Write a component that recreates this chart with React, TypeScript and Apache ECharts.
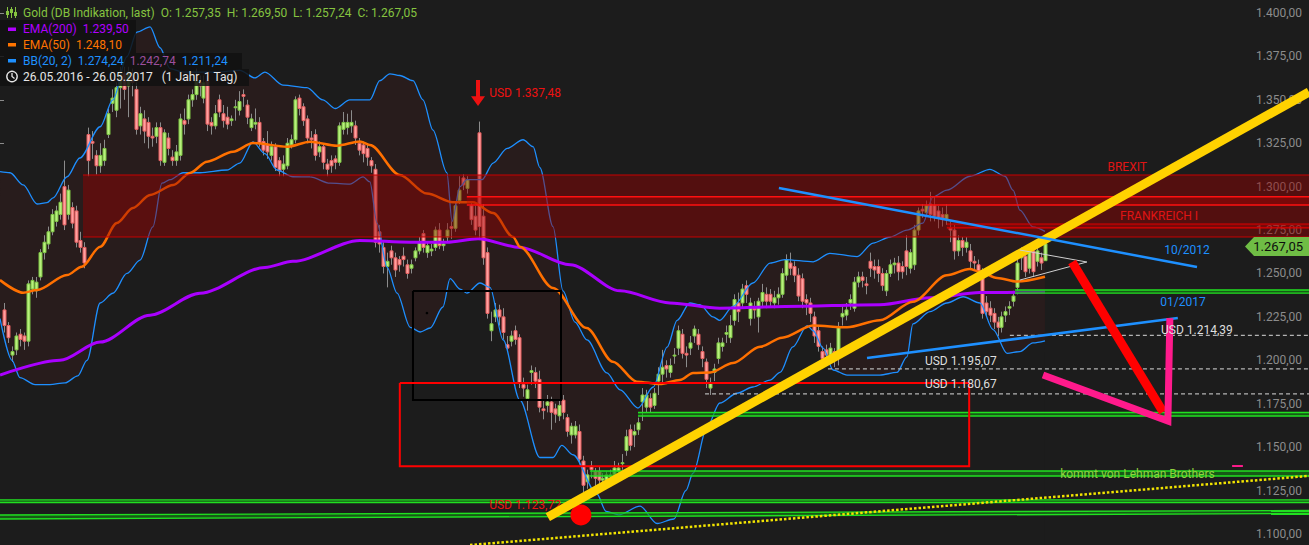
import React, { useEffect, useRef } from "react";
import * as echarts from "echarts";

const W = 1309;
const H = 545;
const BG = "#1c1c1c";
const BAND_FILL = "#281c1c";
const FONT = "Roboto";
const X_MIN = -1.0025;
const X_MAX = 327.07;
const Y_MIN = 1093.62;
const Y_MAX = 1407.49;

// trading-day index of each month start (index 0 = 26.05.2016)
const monthTickIdx = [4, 26, 47, 70, 92, 113, 135, 157, 179, 199, 222, 242];
const monthLabels = ["Jun", "Jul", "Aug", "Sep", "Okt", "Nov", "Dez", "Jan 17", "Feb", "Mär", "Apr", "Mai"];
const priceTicks = [1100, 1125, 1150, 1175, 1200, 1225, 1250, 1275, 1300, 1325, 1350, 1375, 1400];

// daily candles [open, close, low, high]
const ohlc = [
  [1229,1220,1216,1233],[1220,1213,1210,1222],[1203,1205,1199,1208],[1206,1214,1203,1216],[1215,1212,1208,1218],
  [1214,1211,1206,1216],[1211,1244,1208,1246],[1241,1246,1238,1248],[1240,1245,1236,1248],[1248,1262,1246,1264],
  [1262,1268,1258,1272],[1267,1274,1264,1277],[1274,1284,1272,1287],[1280,1286,1277,1289],[1284,1291,1281,1296],
  [1300,1278,1275,1315],[1284,1298,1281,1301],[1288,1279,1276,1291],[1286,1268,1265,1289],[1269,1265,1262,1274],
  [1265,1256,1253,1268],[1330,1315,1306,1334],[1326,1325,1316,1332],[1318,1312,1307,1321],[1312,1318,1308,1325],
  [1315,1322,1312,1327],[1330,1342,1328,1345],[1348,1351,1343,1356],[1344,1357,1340,1360],[1357,1366,1345,1369],
  [1365,1356,1350,1369],[1358,1366,1340,1369],[1363,1360,1352,1368],[1356,1333,1330,1360],[1335,1342,1330,1346],
  [1339,1332,1325,1344],[1337,1329,1322,1340],[1329,1328,1323,1334],[1329,1334,1325,1337],[1334,1315,1312,1337],
  [1314,1331,1312,1333],[1328,1322,1318,1331],[1317,1315,1312,1321],[1315,1320,1312,1324],[1318,1339,1315,1342],
  [1338,1336,1330,1345],[1339,1350,1336,1353],[1350,1353,1346,1356],[1353,1361,1350,1368],[1360,1358,1352,1364],
  [1351,1360,1348,1364],[1361,1336,1332,1364],[1337,1335,1330,1340],[1335,1342,1333,1347],[1350,1343,1340,1353],
  [1342,1338,1334,1347],[1340,1336,1333,1346],[1338,1339,1335,1341],[1346,1346,1338,1350],[1344,1349,1341,1355],
  [1353,1352,1346,1356],[1347,1340,1336,1350],[1334,1339,1332,1342],[1336,1337,1333,1345],[1337,1325,1323,1340],
  [1326,1321,1318,1328],[1324,1320,1316,1332],[1318,1323,1315,1326],[1323,1311,1309,1325],[1315,1309,1306,1317],
  [1310,1313,1306,1318],[1312,1325,1310,1328],[1324,1327,1322,1330],[1327,1350,1325,1352],[1351,1345,1341,1353],
  [1346,1338,1335,1348],[1339,1328,1325,1341],[1328,1327,1322,1332],[1330,1318,1315,1333],[1320,1323,1317,1326],
  [1323,1314,1310,1325],[1313,1310,1306,1316],[1315,1312,1308,1318],[1316,1314,1310,1318],[1314,1335,1312,1337],
  [1333,1337,1330,1343],[1334,1337,1330,1342],[1335,1337,1331,1344],[1335,1328,1324,1338],[1325,1321,1318,1328],
  [1324,1319,1314,1326],[1322,1317,1312,1325],[1315,1312,1308,1317],[1310,1268,1265,1313],[1274,1267,1262,1278],
  [1265,1254,1250,1268],[1254,1257,1242,1262],[1263,1259,1255,1266],[1259,1252,1248,1262],[1258,1255,1251,1260],
  [1260,1258,1254,1265],[1255,1250,1247,1258],[1253,1255,1250,1258],[1259,1263,1257,1265],[1263,1268,1261,1271],
  [1273,1265,1262,1275],[1262,1266,1259,1268],[1263,1264,1260,1267],[1265,1275,1263,1277],[1275,1266,1264,1279],
  [1266,1267,1263,1270],[1271,1275,1268,1279],[1277,1276,1270,1280],[1276,1289,1274,1291],[1292,1298,1290,1306],
  [1305,1301,1298,1307],[1299,1304,1296,1306],[1289,1281,1278,1291],[1283,1275,1272,1289],[1331,1277,1270,1337.48],
  [1283,1259,1255,1290],[1262,1227,1224,1265],[1217,1221,1211,1228],[1225,1229,1222,1233],[1229,1225,1220,1232],
  [1225,1216,1212,1230],[1209,1207,1205,1214],[1211,1214,1208,1217],[1217,1212,1209,1220],[1213,1187,1184,1215],
  [1186,1184,1179,1190],[1178,1183,1171,1186],[1193,1194,1186,1197],[1193,1188,1184,1196],[1189,1173,1170,1194],
  [1172,1171,1166,1177],[1174,1176,1170,1180],[1176,1170,1160,1179],[1172,1169,1164,1175],[1168,1174,1165,1177],
  [1177,1170,1166,1180],[1167,1159,1156,1169],[1157,1162,1152,1164],[1157,1162,1155,1165],[1159,1143,1140,1163],
  [1142,1128,1124,1145],[1130,1134,1126,1137],[1139,1137,1132,1142],[1136,1132,1127,1138],[1136,1131,1128,1139],
  [1131,1132,1126,1135],[1131,1134,1128,1136],[1133,1134,1131,1137],[1134,1138,1132,1142],[1136,1138,1133,1141],
  [1141,1141,1137,1146],[1148,1156,1145,1160],[1160,1151,1148,1163],[1157,1159,1150,1163],[1160,1164,1157,1167],
  [1176,1180,1165,1184],[1173,1180,1170,1183],[1178,1173,1170,1181],[1174,1181,1172,1184],[1188,1192,1180,1196],
  [1192,1196,1186,1206],[1197,1195,1190,1200],[1193,1197,1190,1201],[1203,1203,1198,1207],[1207,1217,1203,1220],
  [1215,1204,1201,1218],[1204,1203,1196,1208],[1207,1210,1203,1214],[1214,1218,1210,1220],[1215,1209,1206,1218],
  [1205,1201,1196,1208],[1199,1189,1184,1201],[1184,1187,1180,1190],[1193,1195,1188,1198],[1201,1210,1198,1213],
  [1208,1210,1205,1213],[1215,1216,1210,1220],[1213,1220,1210,1226],[1223,1235,1220,1238],[1233,1228,1222,1239],
  [1233,1241,1230,1244],[1243,1238,1233,1246],[1224,1233,1220,1236],[1230,1229,1224,1234],[1225,1234,1216,1236],
  [1234,1239,1231,1244],[1238,1234,1230,1242],[1238,1234,1231,1241],[1233,1236,1230,1240],[1236,1238,1232,1242],
  [1238,1250,1236,1253],[1249,1258,1246,1261],[1256,1253,1249,1262],[1254,1249,1245,1257],[1249,1237,1234,1253],
  [1247,1234,1230,1250],[1235,1233,1226,1238],[1233,1227,1222,1236],[1225,1214,1210,1228],[1217,1208,1205,1220],
  [1205,1201,1197,1208],[1206,1203,1198,1209],[1203,1207,1200,1210],[1205,1200,1196,1207],[1204,1219,1197,1222],
  [1225,1227,1220,1232],[1226,1229,1223,1233],[1233,1235,1229,1238],[1230,1245,1228,1248],[1245,1248,1242,1251],
  [1248,1246,1242,1251],[1244,1243,1238,1248],[1257,1253,1248,1262],[1254,1252,1247,1258],[1254,1250,1245,1258],
  [1250,1243,1240,1253],[1240,1250,1237,1252],[1250,1255,1248,1258],[1255,1256,1250,1259],[1256,1251,1246,1260],
  [1254,1251,1247,1257],[1263,1254,1249,1272],[1253,1262,1250,1264],[1255,1275,1252,1278],[1275,1286,1272,1288],
  [1287,1286,1282,1290],[1285,1289,1283,1292],[1290,1284,1280,1297],[1289,1283,1280,1294],[1286,1282,1276,1289],
  [1284,1281,1277,1288],[1281,1284,1278,1290],[1276,1275,1268,1280],[1275,1263,1258,1278],[1263,1269,1260,1272],
  [1269,1265,1260,1271],[1265,1268,1262,1271],[1263,1257,1252,1267],[1257,1256,1252,1260],[1255,1251,1246,1258],
  [1250,1227,1224,1253],[1233,1228,1225,1237],[1230,1226,1222,1234],[1227,1222,1218,1230],[1222,1219,1214,1225],
  [1219,1225,1216,1228],[1226,1228,1222,1231],[1230,1231,1226,1234],[1234,1237,1231,1240],[1242,1256,1238,1260],
  [1259,1262,1252,1265],[1260,1251,1248,1263],[1253,1262,1250,1264],[1263,1251,1248,1265],[1257,1263,1254,1266],
  [1259,1256,1252,1262],[1257.35,1267.05,1257.24,1269.5],
];

// indicator lines: [dayIndex, price]
const ema200Pts = [[-1,1191.5],[14,1200],[24.1,1210.5],[36.6,1226],[49.1,1238.6],[65.4,1253.5],[72.4,1257],[89.2,1269],[101.8,1268],[111,1268],[118.8,1270],[129.3,1265],[141.9,1255],[154.4,1240],[166.9,1233],[179.4,1230],[195.7,1231],[219.5,1232],[232.1,1236],[244.6,1239],[260.9,1239.5]];
const ema50Pts = [[-1,1246.2],[4.8,1238.9],[8.3,1240.5],[15.8,1249.1],[19.5,1253.9],[24.1,1265.4],[28.3,1279.1],[32.3,1287.7],[36.6,1295.2],[42.4,1300.9],[46.6,1307.9],[50.9,1314.4],[57.4,1320.1],[62.4,1325.1],[71,1323],[76.7,1325.9],[83.5,1323.6],[89.2,1326],[91.7,1324],[99.2,1306.7],[106,1296],[112.5,1291],[117.5,1291],[122.6,1284.8],[127.6,1271],[129.3,1265.4],[137.6,1241.6],[146,1218.6],[152.6,1199.2],[158.6,1187.7],[164.4,1186.3],[169.4,1188.6],[172.7,1192.7],[177,1193],[182.7,1198.4],[189.5,1207.8],[195,1213],[202.8,1220],[211.3,1219],[219.5,1223],[227.8,1233.7],[236.3,1249],[242,1252.6],[244.6,1251],[248.9,1247.4],[253.9,1245.3],[260.9,1248.1]];
const bbUpperPts = [[-1,1308.6],[1.5,1308],[4.8,1301],[8.3,1290],[10.8,1290.8],[12.3,1293.5],[15.8,1305.7],[19,1316.5],[24.1,1334.5],[27.3,1350],[30.8,1374.8],[33.3,1389],[36.6,1392],[39.1,1380],[41.6,1368],[44.9,1366],[53.4,1366],[59.1,1367],[62.9,1362.6],[65.4,1366],[69.9,1358.5],[75.9,1357],[79.9,1350],[83,1345],[86.7,1350],[91.7,1350],[94.2,1361],[96.7,1365],[99.2,1364],[102.5,1361],[105,1350],[107.5,1332.6],[111,1308],[112.3,1280],[114.3,1300],[116,1304],[119.8,1304],[122.6,1313.6],[126.1,1322],[130.1,1327],[132.6,1323],[134.3,1311],[137.6,1277],[140.1,1240],[143.1,1222],[146.1,1211.7],[151.1,1192.7],[154.4,1183],[158.9,1172.5],[162.7,1184.6],[166.2,1207.6],[168.7,1223],[171.9,1233],[174.4,1232],[177.7,1225],[179.4,1223],[182.7,1231],[187.7,1244.5],[192,1256],[195.7,1258],[202.8,1256.7],[207,1261.6],[213.8,1259.7],[217.8,1267.5],[222.1,1271],[226.3,1275],[230.3,1279],[232.8,1294],[236.3,1298],[242.1,1306],[247.1,1310],[250.9,1306],[252.9,1298],[254.6,1286.5],[257.9,1276.8],[260.9,1274.2]];
const bbLowerPts = [[-1,1224],[2,1200],[4,1190],[7.8,1186],[11.5,1186],[15.3,1187],[18.5,1191],[20.8,1200],[24.1,1233],[27.3,1238.6],[30.8,1250],[34.1,1257.7],[37.3,1276.8],[39.6,1302],[41.6,1304],[44.9,1308],[49.1,1308],[55.9,1309.6],[59.1,1313.6],[62.4,1325.7],[65.4,1319],[68.4,1309.6],[72.4,1305.7],[76.7,1305.6],[81.7,1302],[86.7,1301.5],[90,1305.6],[91.7,1302.7],[93.5,1279],[96,1253.7],[98.5,1238.7],[101.8,1219],[104.3,1216.3],[106.8,1218.6],[110,1230.7],[111.8,1247],[114.3,1241],[116,1238.7],[119.3,1244.5],[121.8,1242],[125.1,1211.7],[129.3,1177],[134.3,1144],[137.6,1144],[139.8,1151],[142.6,1145.6],[148.6,1123],[150.9,1113],[154.1,1111],[159.4,1116],[163.7,1106],[167.9,1108.6],[170.9,1125],[172.7,1135],[176.2,1161.6],[179.4,1175.4],[183.7,1181],[187.7,1184.6],[192,1188.6],[194.5,1193],[197.7,1207.7],[201.3,1220],[202.8,1217],[205.3,1207],[207.8,1194.4],[211.3,1191.5],[219.5,1191.5],[223.8,1193],[226.3,1202],[227.8,1221],[232.1,1228],[236.3,1233],[240.4,1236.6],[244.6,1233],[247.9,1217.6],[251.4,1204],[254.6,1205],[257.9,1210],[260.9,1211.2]];

// drawn annotations, in [dayIndex, price]
const brexitZone = [19.8, X_MAX, 1306.7, 1271.0];
const frankreichZone = [116.0, X_MAX, 1294.2, 1289.4];
const innerZone = [236.3, X_MAX, 1278.5, 1276.2];
const greenBands = [
  [253.4, 1240.5, 1238.7, X_MAX, 1240.5, 1238.7],
  [158.9, 1169.9, 1167.9, X_MAX, 1169.9, 1167.9],
  [146.9, 1136.2, 1133.4, X_MAX, 1136.2, 1133.4],
  [X_MIN, 1119.6, 1118.1, X_MAX, 1119.6, 1118.1],
  [X_MIN, 1110.9, 1108.6, X_MAX, 1113.5, 1111.8],
];
const dashedLevels = [[252.1, 1214.39], [206.5, 1195.07], [175.7, 1180.67]];
const redBox = [99.2, 241.9, 1186.9, 1139.0];
const blackBox = [102.5, 139.6, 1239.9, 1177.1];
const yellowTrend = [[136.3, 1109.7], [X_MAX, 1354.5]];
const yellowDotted = [[116.8, 1093.6], [X_MAX, 1133.4]];
const blueDown = [[194.2, 1299.2], [299.0, 1253.7]];
const blueUp = [[216.3, 1201.3], [294.2, 1224.3]];
const redStroke = [[267.7, 1256.6], [290.5, 1170.2]];
const pinkV = [[260.4, 1191.5], [291.7, 1165.0], [292.2, 1224.3]];
const pinkDash = [[307.8, 1139.1], [310.5, 1139.1]];
const pennant = [[254.6, 1263.5], [271.4, 1256.6], [254.6, 1246.2]];
const topArrow = { idx: 118.8, top: 1361.4, base: 1352.0, tip: 1346.4 };
const lowMark = [144.6, 1110.9];
const texts = [
  ["BREXIT", 281.5, 1311.3, "#e01414", "center"],
  ["FRANKREICH I", 289.5, 1283.1, "#e01414", "center"],
  ["10/2012", 296.5, 1263.5, "#1e90ff", "center"],
  ["01/2017", 295.5, 1233.6, "#1e90ff", "center"],
  ["USD 1.214,39", 290.0, 1217.4, "#dedede", "left"],
  ["USD 1.195,07", 230.8, 1199.6, "#dedede", "left"],
  ["USD 1.180,67", 230.8, 1186.3, "#dedede", "left"],
  ["kommt von Lehman Brothers", 264.7, 1134.5, "#8fd13f", "left"],
  ["USD 1.337,48", 121.6, 1353.9, "#ee1111", "left"],
];
const lowText = ["USD 1.123,72", 121.6, 1116.7];

const fmtPrice = (v: number) => {
  const s = v.toFixed(2);
  const [i, d] = s.split(".");
  const ii = i.length > 3 ? i.slice(0, i.length - 3) + "." + i.slice(-3) : i;
  return ii + "," + d;
};

function renderCandle(params: any, api: any) {
  const i = api.value(0);
  const o = api.value(1);
  const c = api.value(2);
  const l = api.value(3);
  const h = api.value(4);
  const pO = api.coord([i, o]);
  const pC = api.coord([i, c]);
  const pL = api.coord([i, l]);
  const pH = api.coord([i, h]);
  const up = c >= o;
  const x = Math.round(pO[0]) + 0.5;
  const top = Math.min(pO[1], pC[1]);
  const hgt = Math.max(1, Math.abs(pO[1] - pC[1]));
  return {
    type: "group",
    children: [
      { type: "line", shape: { x1: x, y1: pL[1], x2: x, y2: pH[1] }, style: { stroke: "#8c8c8c", lineWidth: 1 } },
      {
        type: "rect",
        shape: { x: x - 1.5, y: top, width: 3, height: hgt },
        style: { fill: up ? "#b9f07e" : "#ffa0a0", stroke: up ? "#7cc443" : "#e45e5e", lineWidth: 1 },
      },
    ],
  };
}

function renderAnnotations(params: any, api: any) {
  const P = (d: number[]) => api.coord(d);
  const ch: any[] = [];
  const poly = (pts: number[][], style: any) => ch.push({ type: "polygon", shape: { points: pts.map(P) }, style });
  const line = (pts: number[][], style: any) =>
    ch.push({ type: "polyline", shape: { points: pts.map(P) }, style: { fill: null, ...style } });
  const zone = (z: number[], fill: string, border: string, bw: number) => {
    const [x1, x2, t, b] = z;
    poly([[x1, t], [x2, t], [x2, b], [x1, b]], { fill });
    line([[x1, t], [x2, t]], { stroke: border, lineWidth: bw });
    line([[x1, b], [x2, b]], { stroke: border, lineWidth: bw });
  };
  zone(brexitZone, "rgba(150,0,0,0.45)", "#c80000", 1);
  zone(frankreichZone, "rgba(190,0,0,0.35)", "#ff1010", 1.5);
  zone(innerZone, "rgba(190,0,0,0.35)", "#e00000", 1.2);

  greenBands.forEach((g) => {
    const [x1, t1, b1, x2, t2, b2] = g;
    poly([[x1, t1], [x2, t2], [x2, b2], [x1, b1]], { fill: "rgba(20,130,20,0.6)" });
    line([[x1, t1], [x2, t2]], { stroke: "#20e020", lineWidth: 1.4 });
    line([[x1, b1], [x2, b2]], { stroke: "#20e020", lineWidth: 1.4 });
  });

  dashedLevels.forEach((d) => {
    line([[d[0], d[1]], [X_MAX, d[1]]], { stroke: "#b4b4b4", lineWidth: 1.2, lineDash: [4, 3] });
  });

  const box = (b: number[], stroke: string) =>
    line([[b[0], b[2]], [b[1], b[2]], [b[1], b[3]], [b[0], b[3]], [b[0], b[2]]], { stroke, lineWidth: 2 });
  box(blackBox, "#000000");
  box(redBox, "#ff0000");
  const dot = P([106, 1227.2]);
  ch.push({ type: "circle", shape: { cx: dot[0], cy: dot[1], r: 1.3 }, style: { fill: "#000" } });

  const lm = P(lowMark);
  ch.push({ type: "circle", shape: { cx: lm[0], cy: lm[1], r: 10.5 }, style: { fill: "#ff0000" } });
  const lt = P([lowText[1] as number, lowText[2] as number]);
  ch.push({
    type: "text", x: lt[0], y: lt[1],
    style: { text: lowText[0], fill: "#ee1111", fontSize: 12, fontFamily: FONT, align: "left", verticalAlign: "middle" },
  });

  line(yellowDotted, { stroke: "#f2e400", lineWidth: 2.5, lineDash: [2.5, 2] });
  line(yellowTrend, { stroke: "#ffd200", lineWidth: 9 });
  line(blueDown, { stroke: "#1e90ff", lineWidth: 2.5 });
  line(blueUp, { stroke: "#1e90ff", lineWidth: 2.5 });
  line([pennant[0], pennant[1], pennant[2]], { stroke: "#cfcfcf", lineWidth: 1 });
  line(redStroke, { stroke: "#ff0000", lineWidth: 9 });
  line(pinkV, { stroke: "#ff1a8c", lineWidth: 7, lineJoin: "miter" });
  line(pinkDash, { stroke: "#ff1a8c", lineWidth: 2 });

  const aTop = P([topArrow.idx, topArrow.top]);
  const aBase = P([topArrow.idx, topArrow.base]);
  const aTip = P([topArrow.idx, topArrow.tip]);
  ch.push({
    type: "polygon",
    shape: {
      points: [
        [aTop[0] - 2, aTop[1]], [aTop[0] + 2, aTop[1]], [aBase[0] + 2, aBase[1]], [aBase[0] + 7, aBase[1]],
        [aTip[0], aTip[1]], [aBase[0] - 7, aBase[1]], [aBase[0] - 2, aBase[1]],
      ],
    },
    style: { fill: "#ee1111" },
  });

  texts.forEach((t) => {
    const p = P([t[1] as number, t[2] as number]);
    ch.push({
      type: "text", x: p[0], y: p[1],
      style: { text: t[0], fill: t[3], fontSize: 12, fontFamily: FONT, align: t[4], verticalAlign: "middle" },
    });
  });
  return { type: "group", children: ch };
}

const legendGraphics = () => {
  const g: any[] = [];
  const z = 100;
  g.push({ type: "rect", z, shape: { x: 0, y: 20, width: 136, height: 33 }, style: { fill: "rgba(16,16,16,0.85)" } });
  g.push({ type: "rect", z, shape: { x: 0, y: 53, width: 242, height: 16 }, style: { fill: "rgba(16,16,16,0.85)" } });
  g.push({ type: "rect", z, shape: { x: 0, y: 69, width: 249, height: 17 }, style: { fill: "rgba(16,16,16,0.85)" } });
  // candle icon
  [7.5, 11.5, 15.5].forEach((x, k) => {
    g.push({ type: "line", z: z + 1, shape: { x1: x, y1: 7, x2: x, y2: 18 }, style: { stroke: "#86c440", lineWidth: 1 } });
    g.push({ type: "rect", z: z + 1, shape: { x: x - 1.5, y: [11, 9, 12][k], width: 3, height: 4 }, style: { fill: "#86c440" } });
  });
  const txt = (x: number, y: number, text: string, fill: string, extra: any = {}) =>
    g.push({
      type: "text", z: z + 1, x, y,
      style: { text, fill, fontSize: 12, fontFamily: FONT, verticalAlign: "middle", ...extra },
    });
  txt(23, 12.5, "Gold (DB Indikation, last)  O: 1.257,35  H: 1.269,50  L: 1.257,24  C: 1.267,05", "#86c440");
  g.push({ type: "rect", z: z + 1, shape: { x: 8, y: 27.5, width: 8, height: 3.5 }, style: { fill: "#b000ff" } });
  txt(23, 29, "EMA(200)  1.239,50", "#b000ff");
  g.push({ type: "rect", z: z + 1, shape: { x: 8, y: 43, width: 8, height: 3.5 }, style: { fill: "#ff7400" } });
  txt(23, 44.5, "EMA(50)  1.248,10", "#ff7400");
  g.push({ type: "rect", z: z + 1, shape: { x: 8, y: 59, width: 8, height: 3.5 }, style: { fill: "#1e90ff" } });
  g.push({
    type: "text", z: z + 1, x: 23, y: 60.5,
    style: {
      text: "{b|BB(20, 2)  1.274,24}  {m|1.242,74}  {b|1.211,24}",
      verticalAlign: "middle",
      fontSize: 12,
      fontFamily: FONT,
      rich: {
        b: { fill: "#1e90ff", fontSize: 12, fontFamily: FONT },
        m: { fill: "#9c4f9c", fontSize: 12, fontFamily: FONT },
      },
    },
  });
  // clock icon
  g.push({ type: "circle", z: z + 1, shape: { cx: 12, cy: 76.5, r: 5.2 }, style: { fill: "none", stroke: "#e6e6e6", lineWidth: 1.4 } });
  g.push({ type: "polyline", z: z + 1, shape: { points: [[12, 73], [12, 76.5], [14.5, 78.5]] }, style: { fill: null, stroke: "#e6e6e6", lineWidth: 1.3 } });
  txt(23, 76.5, "26.05.2016 - 26.05.2017   (1 Jahr, 1 Tag)", "#e6e6e6");
  // last price tag
  g.push({
    type: "polygon", z: z + 1,
    shape: { points: [[1245, 246.5], [1254, 237], [1309, 237], [1309, 256], [1254, 256]] },
    style: { fill: "#6fbd45" },
  });
  txt(1303, 246.5, "1.267,05", "#0d0d0d", { align: "right", fontSize: 13 });
  return g;
};

export default function App() {
  const ref = useRef<HTMLDivElement>(null);
  useEffect(() => {
    if (!ref.current) return;
    const chart = echarts.init(ref.current, undefined, { renderer: "svg" });
    const candleData = ohlc.map((d, i) => [i, d[0], d[1], d[2], d[3]]);
    const lineBase = { type: "line", symbol: "none", silent: true, smooth: 0.3, smoothMonotone: "x" };
    const option: any = {
      animation: false,
      backgroundColor: BG,
      textStyle: { fontFamily: FONT },
      grid: { left: 0, right: 0, top: 0, bottom: 0, containLabel: false },
      xAxis: {
        type: "value",
        min: X_MIN,
        max: X_MAX,
        axisLine: { show: false },
        splitLine: { show: false },
        axisTick: { show: true, inside: true, length: 4, lineStyle: { color: "#8c8c8c" }, customValues: monthTickIdx },
        axisLabel: {
          show: true,
          inside: true,
          margin: 3,
          color: "#8c8c8c",
          fontFamily: FONT,
          fontSize: 12,
          customValues: monthTickIdx,
          formatter: (v: number) => {
            const k = monthTickIdx.indexOf(Math.round(v));
            return k >= 0 ? monthLabels[k] : "";
          },
        },
      },
      yAxis: {
        type: "value",
        position: "right",
        min: Y_MIN,
        max: Y_MAX,
        axisLine: { show: false },
        splitLine: { show: false },
        axisTick: { show: true, inside: true, length: 4, lineStyle: { color: "#8c8c8c" }, customValues: priceTicks },
        axisLabel: {
          show: true,
          inside: true,
          margin: 7,
          color: "#8c8c8c",
          fontFamily: FONT,
          fontSize: 12,
          customValues: priceTicks,
          formatter: (v: number) => fmtPrice(v),
        },
      },
      series: [
        { ...lineBase, name: "bbAreaUpper", data: bbUpperPts, z: 1, lineStyle: { opacity: 0 }, areaStyle: { color: BAND_FILL, opacity: 1, origin: "start" } },
        { ...lineBase, name: "bbAreaLower", data: bbLowerPts, z: 1, lineStyle: { opacity: 0 }, areaStyle: { color: BG, opacity: 1, origin: "start" } },
        {
          type: "custom", name: "Gold", silent: true, z: 2,
          data: candleData,
          encode: { x: 0, y: [1, 2, 3, 4] },
          renderItem: renderCandle,
        },
        { ...lineBase, name: "BB upper", data: bbUpperPts, z: 3, lineStyle: { color: "#1e8fff", width: 1.3 } },
        { ...lineBase, name: "BB lower", data: bbLowerPts, z: 3, lineStyle: { color: "#1e8fff", width: 1.3 } },
        { ...lineBase, name: "EMA(200)", data: ema200Pts, z: 3, lineStyle: { color: "#aa00ff", width: 3 } },
        { ...lineBase, name: "EMA(50)", data: ema50Pts, z: 3, lineStyle: { color: "#ff7000", width: 2.5 } },
        {
          type: "custom", name: "annotations", silent: true, z: 5,
          data: [[150, 1200]],
          encode: { x: 0, y: 1 },
          renderItem: renderAnnotations,
        },
      ],
      graphic: legendGraphics(),
    };
    chart.setOption(option);
    return () => chart.dispose();
  }, []);
  return <div ref={ref} style={{ position: "absolute", left: 0, top: 0, width: W, height: H }} />;
}
